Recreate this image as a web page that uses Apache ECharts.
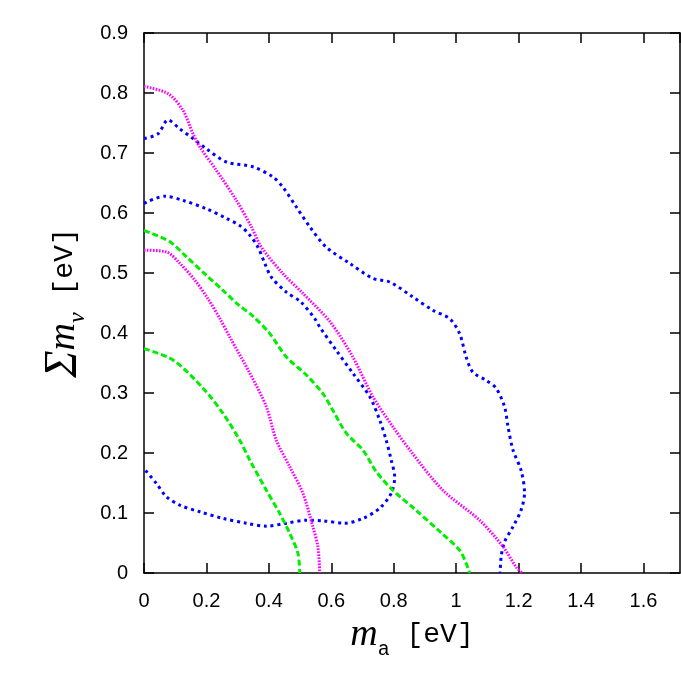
<!DOCTYPE html>
<html>
<head>
<meta charset="utf-8">
<script src="https://cdn.jsdelivr.net/npm/echarts@6/dist/echarts.min.js"></script>
<style>
  html, body { margin: 0; padding: 0; background: #fff; }
  #chart { width: 681px; height: 675px; }
</style>
</head>
<body>
<div id="chart"></div>
<script>
// axis ranges
const xRange = [0, 1.717]
const yRange = [0, 0.9]

// contour lines, [m_a, sum m_nu] pairs
// blue dotted, outer
const blueOuter = [
  [0, 0.724], [0.045, 0.732], [0.077, 0.755], [0.115, 0.740], [0.157, 0.724],
  [0.2, 0.707], [0.264, 0.685], [0.349, 0.677], [0.413, 0.660], [0.445, 0.643],
  [0.488, 0.610], [0.531, 0.577], [0.584, 0.543], [0.659, 0.516], [0.733, 0.491],
  [0.787, 0.485], [0.861, 0.460], [0.925, 0.438], [0.979, 0.424], [1.011, 0.399],
  [1.032, 0.360], [1.053, 0.335], [1.096, 0.321], [1.128, 0.308], [1.155, 0.277],
  [1.166, 0.244], [1.182, 0.205], [1.208, 0.171], [1.219, 0.133], [1.208, 0.105],
  [1.182, 0.077], [1.155, 0.052], [1.144, 0.027], [1.141, 0]
]
// blue dotted, inner (closed back to the y axis)
const blueInner = [
  [0, 0.616], [0.067, 0.628], [0.125, 0.621], [0.2, 0.607], [0.264, 0.591],
  [0.307, 0.579], [0.339, 0.563], [0.365, 0.543], [0.387, 0.516], [0.408, 0.493],
  [0.456, 0.468], [0.502, 0.452], [0.547, 0.424], [0.563, 0.410], [0.616, 0.371],
  [0.669, 0.333], [0.723, 0.294], [0.755, 0.255], [0.776, 0.221], [0.792, 0.188],
  [0.803, 0.160], [0.792, 0.133], [0.755, 0.108], [0.701, 0.091], [0.643, 0.083],
  [0.573, 0.087], [0.520, 0.088], [0.456, 0.083], [0.392, 0.078], [0.328, 0.083],
  [0.253, 0.091], [0.179, 0.102], [0.115, 0.113], [0.072, 0.127], [0.040, 0.149],
  [0, 0.174]
]
// magenta fine dots
const magentaOuter = [
  [0, 0.811], [0.077, 0.799], [0.125, 0.771], [0.157, 0.732], [0.179, 0.710],
  [0.232, 0.671], [0.296, 0.621], [0.344, 0.577], [0.376, 0.543], [0.445, 0.499],
  [0.509, 0.466], [0.597, 0.418], [0.669, 0.360], [0.733, 0.294], [0.797, 0.244],
  [0.856, 0.202], [0.957, 0.138], [1.075, 0.088], [1.150, 0.044], [1.192, 0.010],
  [1.210, 0]
]
const magentaInner = [
  [0, 0.538], [0.072, 0.535], [0.115, 0.516], [0.163, 0.488], [0.205, 0.457],
  [0.243, 0.424], [0.275, 0.393], [0.339, 0.333], [0.392, 0.277], [0.424, 0.221],
  [0.467, 0.177], [0.509, 0.133], [0.541, 0.077], [0.557, 0.044], [0.563, 0]
]
// green dashed
const greenOuter = [
  [0, 0.571], [0.083, 0.552], [0.136, 0.527], [0.2, 0.496], [0.253, 0.471],
  [0.300, 0.448], [0.349, 0.428], [0.403, 0.399], [0.456, 0.360], [0.520, 0.330],
  [0.573, 0.299], [0.605, 0.271], [0.648, 0.233], [0.701, 0.205], [0.744, 0.169],
  [0.797, 0.138], [0.866, 0.107], [0.952, 0.067], [1.011, 0.038], [1.032, 0.016],
  [1.043, 0]
]
const greenInner = [
  [0, 0.374], [0.093, 0.355], [0.189, 0.308], [0.253, 0.266], [0.307, 0.221],
  [0.339, 0.188], [0.392, 0.138], [0.435, 0.099], [0.467, 0.066], [0.493, 0.033],
  [0.499, 0]
]

const chart = echarts.init(document.getElementById('chart'))

const frameLine = { show: true, onZero: false, lineStyle: { color: '#000', width: 1.5 } }
const frameTick = { show: true, inside: true, length: 10, lineStyle: { color: '#000', width: 1.5 } }
const tickFont = { color: '#000', fontSize: 20, fontFamily: 'Liberation Sans, Arial, sans-serif' }
const mono = 'Liberation Mono, DejaVu Sans Mono, monospace'
const serif = 'Liberation Serif, Times New Roman, serif'

function contour (data, color, type, width) {
  return {
    type: 'line',
    data: data,
    symbol: 'none',
    smooth: 0.3,
    silent: true,
    lineStyle: { color: color, type: type, width: width }
  }
}

const option = {
  backgroundColor: '#fff',
  animation: false,
  grid: { left: 144, right: 1, top: 33, bottom: 102, containLabel: false },
  xAxis: [
    {
      type: 'value',
      position: 'bottom',
      min: xRange[0],
      max: xRange[1],
      interval: 0.2,
      axisLine: frameLine,
      axisTick: frameTick,
      splitLine: { show: false },
      axisLabel: Object.assign({ margin: 18, showMaxLabel: false }, tickFont),
      name: '{m|m}{s|a}{u| [eV]}',
      nameLocation: 'middle',
      nameGap: 30,
      nameTextStyle: {
        rich: {
          m: { fontFamily: serif, fontStyle: 'italic', fontSize: 38, lineHeight: 50, color: '#000', verticalAlign: 'middle' },
          s: { fontFamily: mono, fontSize: 20, lineHeight: 20, color: '#000', verticalAlign: 'bottom' },
          u: { fontFamily: mono, fontSize: 28, lineHeight: 50, color: '#000', verticalAlign: 'middle' }
        }
      }
    },
    {
      type: 'value',
      position: 'top',
      min: xRange[0],
      max: xRange[1],
      interval: 0.2,
      axisLine: frameLine,
      axisTick: frameTick,
      axisLabel: { show: false },
      splitLine: { show: false }
    }
  ],
  yAxis: [
    {
      type: 'value',
      position: 'left',
      min: yRange[0],
      max: yRange[1],
      interval: 0.1,
      axisLine: frameLine,
      axisTick: frameTick,
      splitLine: { show: false },
      axisLabel: Object.assign({ margin: 16 }, tickFont),
      name: '{g|Σ}{m|m}{s|ν}{u| [eV]}',
      nameLocation: 'middle',
      nameRotate: 90,
      nameGap: 42,
      nameTextStyle: {
        rich: {
          g: { fontFamily: serif, fontStyle: 'italic', fontSize: 46, lineHeight: 50, color: '#000', verticalAlign: 'middle' },
          m: { fontFamily: serif, fontStyle: 'italic', fontSize: 38, lineHeight: 50, color: '#000', verticalAlign: 'middle' },
          s: { fontFamily: serif, fontStyle: 'italic', fontSize: 24, lineHeight: 20, color: '#000', verticalAlign: 'bottom' },
          u: { fontFamily: mono, fontSize: 28, lineHeight: 50, color: '#000', verticalAlign: 'middle' }
        }
      }
    },
    {
      type: 'value',
      position: 'right',
      min: yRange[0],
      max: yRange[1],
      interval: 0.1,
      axisLine: frameLine,
      axisTick: frameTick,
      axisLabel: { show: false },
      splitLine: { show: false }
    }
  ],
  series: [
    contour(blueOuter, '#0000ff', [3, 3.8], 3),
    contour(blueInner, '#0000ff', [3, 3.8], 3),
    contour(magentaOuter, '#ff00ff', [1.6, 1.4], 3),
    contour(magentaInner, '#ff00ff', [1.6, 1.4], 3),
    contour(greenOuter, '#00ee00', [6, 3], 3),
    contour(greenInner, '#00ee00', [6, 3], 3)
  ]
}

chart.setOption(option)
</script>
</body>
</html>
